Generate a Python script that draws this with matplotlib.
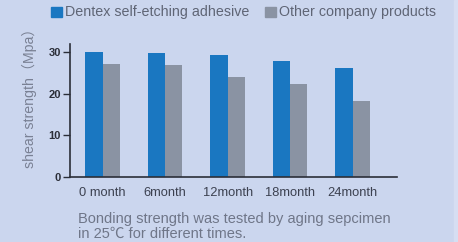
import matplotlib
matplotlib.use("Agg")
import matplotlib.pyplot as plt
from matplotlib.patches import Rectangle
import numpy as np

categories = ["0 month", "6month", "12month", "18month", "24month"]
dentex = [30.1, 29.7, 29.3, 27.9, 26.2]
other = [27.1, 26.9, 23.9, 22.3, 18.2]
series_names = ["Dentex self-etching adhesive", "Other company products"]
yticks = [0, 10, 20, 30]
ylabel = "shear strength（Mpa）"
caption_lines = ["Bonding strength was tested by aging sepcimen",
                 "in 25℃ for different times."]

BG = "#cbd6ee"
BLUE = "#1a77c1"
GRAY = "#8a93a3"
W, H = 458, 242

plt.rcParams['font.family'] = ['Liberation Sans', 'Noto Sans CJK SC', 'DejaVu Sans']

fig = plt.figure(figsize=(W / 100, H / 100), dpi=100, facecolor=BG)

def fx(px):
    return px / W

def fy(py):
    return 1 - py / H

ax = fig.add_axes([fx(70), fy(177), fx(397) - fx(70), fy(44) - fy(177)])
ax.set_facecolor("none")

x = np.arange(len(categories))
bw = 0.277
ax.bar(x - bw / 2, dentex, width=bw, color=BLUE, linewidth=0)
ax.bar(x + bw / 2, other, width=bw, color=GRAY, linewidth=0)

ax.set_xlim(-0.523, 4.71)
ax.set_ylim(0, 31.9)
ax.set_yticks(yticks)
ax.set_yticklabels([str(v) for v in yticks], fontsize=8, fontweight="bold", color="#2b2e38")
ax.set_xticks(x)
ax.set_xticklabels(categories, fontsize=9.3, color="#3c4150")
ax.tick_params(axis="x", length=0, pad=7)
ax.tick_params(axis="y", length=5, width=1.0, color="#2b2e38", pad=1.5)
for s in ["top", "right"]:
    ax.spines[s].set_visible(False)
for s in ["left", "bottom"]:
    ax.spines[s].set_color("#2b2e38")
    ax.spines[s].set_linewidth(1.2)

# y label
fig.text(fx(29), fy(95), ylabel, rotation=90, ha="center", va="center",
         fontsize=10.2, color="#7a8194")

# legend
fig.patches.append(Rectangle((fx(51), fy(16.7)), fx(10.5), fy(7.3) - fy(16.7),
                             transform=fig.transFigure, color=BLUE, figure=fig))
fig.text(fx(65), fy(12), series_names[0], ha="left", va="center", fontsize=10.3, color="#5f6575")
fig.patches.append(Rectangle((fx(265), fy(16.7)), fx(10.5), fy(7.3) - fy(16.7),
                             transform=fig.transFigure, color=GRAY, figure=fig))
fig.text(fx(279), fy(12), series_names[1], ha="left", va="center", fontsize=10.3, color="#5f6575")

# caption
fig.text(fx(78), fy(219), caption_lines[0], ha="left", va="center", fontsize=10.5, color="#6f7688")
fig.text(fx(78), fy(234), caption_lines[1], ha="left", va="center", fontsize=10.5, color="#6f7688")

# right panel edge
fig.patches.append(Rectangle((fx(454), 0), fx(4), 1, transform=fig.transFigure,
                             color="#d6def2", figure=fig))

fig.savefig("out.png", dpi=100, facecolor=BG)
